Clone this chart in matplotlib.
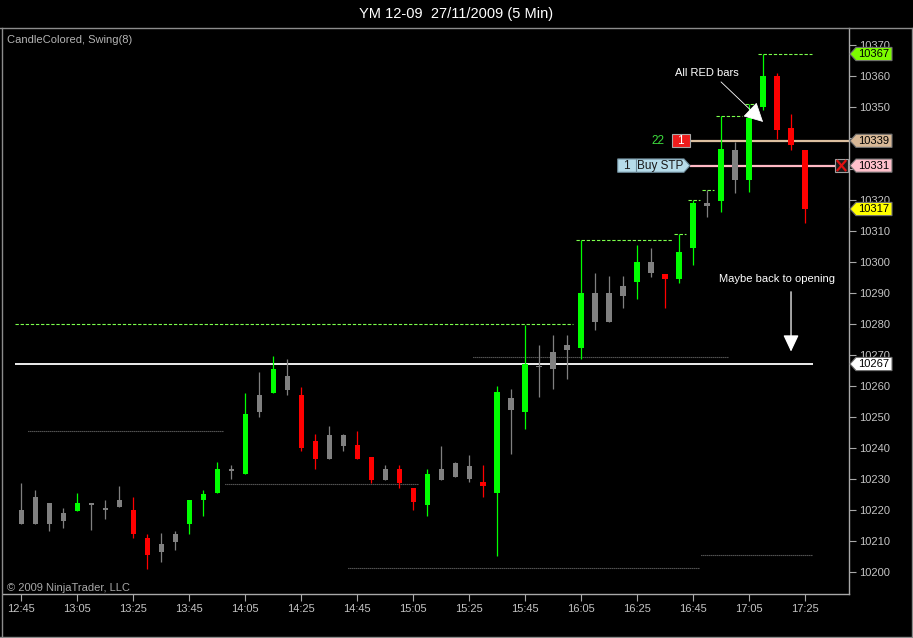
import numpy as np
import matplotlib
matplotlib.use("Agg")
import matplotlib.pyplot as plt
from matplotlib.patches import Polygon, Rectangle
from matplotlib.lines import Line2D
from matplotlib.transforms import blended_transform_factory

# 5 minute bars, YM 12-09, 27/11/2009 12:45 .. 17:25
opens = [10220, 10224, 10222, 10219, 10219.5, 10222, 10220.5, 10223, 10220, 10211,
         10209, 10212, 10215.5, 10223, 10225.5, 10233, 10231.5, 10257, 10257.5, 10263,
         10257, 10242, 10244, 10244, 10241, 10237, 10233, 10233, 10227, 10221.5,
         10233, 10235, 10234, 10229, 10225.5, 10256, 10251.5, 10266.5, 10271, 10273,
         10272, 10290, 10290, 10292, 10293.5, 10300, 10296, 10294.5, 10304.5, 10319,
         10319.5, 10336, 10326.5, 10350, 10360, 10343, 10336]
highs = [10228.5, 10226.5, 10222, 10220.5, 10225.5, 10222, 10223, 10227.5, 10224, 10212,
         10212.5, 10213, 10223, 10226.5, 10235.5, 10234.5, 10257.5, 10264.5, 10269.5, 10268.5,
         10259.5, 10244.5, 10247, 10244.5, 10245.5, 10237, 10234.5, 10234.5, 10227, 10233,
         10240.5, 10235.5, 10237.5, 10234.5, 10260, 10259, 10279.5, 10273, 10276.5, 10276.5,
         10307, 10296.5, 10295.5, 10295.5, 10305.5, 10304.5, 10296, 10309, 10320, 10323,
         10347, 10338.5, 10351, 10367, 10361, 10347.5, 10336]
lows = [10215.5, 10215.5, 10213, 10214, 10219.5, 10213.5, 10217, 10221, 10211, 10201,
        10203, 10207, 10212, 10218, 10225.5, 10230, 10231.5, 10250, 10257.5, 10257,
        10239, 10233, 10236.5, 10239, 10236.5, 10228.5, 10229.5, 10227, 10220, 10218,
        10229.5, 10230.5, 10229, 10224, 10205, 10238, 10246, 10256.5, 10259, 10262,
        10268.5, 10278, 10280.5, 10285, 10288, 10295, 10285, 10293, 10299, 10314.5,
        10316, 10322, 10322.5, 10349, 10339.5, 10336, 10312.5]
closes = [10215.5, 10215.5, 10215.5, 10216.5, 10222, 10221.5, 10220, 10221, 10212, 10205.5,
          10206.5, 10209.5, 10223, 10225, 10233, 10232.5, 10251, 10251.5, 10265.5, 10258.5,
          10240, 10236.5, 10236.5, 10240.5, 10236.5, 10229.5, 10229.5, 10228.5, 10222.5, 10231.5,
          10229.5, 10230.5, 10230, 10227.5, 10258, 10252, 10267, 10266, 10265.5, 10271.5,
          10290, 10280.5, 10280.5, 10289, 10300, 10296.5, 10294.5, 10303, 10319, 10318,
          10336.5, 10326.5, 10346.5, 10360, 10342.5, 10337.5, 10317]
# CandleColored states: u = green, d = red, n = grey
bar_states = list("nnnnunnndd" "nnuuununun" "ddnnddnddu"
                  "nnndununnn" "unnnunduun" "unuuddd")

time_labels = ["12:45", "13:05", "13:25", "13:45", "14:05", "14:25", "14:45", "15:05",
               "15:25", "15:45", "16:05", "16:25", "16:45", "17:05", "17:25"]

# Swing(8) levels: (first bar, last bar, price)
swing_highs = [(-0.45, 39.4, 10280), (39.6, 46.5, 10307), (46.6, 47.5, 10309),
               (47.6, 48.5, 10320), (48.6, 49.5, 10323), (49.6, 51.5, 10347),
               (51.7, 52.45, 10351), (52.6, 56.5, 10367)]
swing_lows = [(0.5, 14.4, 10245.5), (14.55, 28.4, 10228.3), (32.3, 50.45, 10269.4),
              (23.3, 48.5, 10201.1), (48.55, 56.5, 10205.4)]

open_price = 10267
stop_price = 10339
entry_price = 10331
stop_qty = 22

W, H = 913, 638
BG = "black"
GREY_TXT = "#c4c4c4"
FRAME = "#8c8c8c"

plt.rcParams["font.family"] = ["Liberation Sans", "DejaVu Sans"]

fig = plt.figure(figsize=(W / 100, H / 100), dpi=100, facecolor=BG)
# plot area: x from 3 to 849 px, y from 28 to 594 px
ax = fig.add_axes([3 / W, 1 - 594 / H, 846 / W, 566 / H], facecolor=BG)

# pixel scale of the original: bar i at 21.3 + 14 i, 10360 at y=75.7, 3.1 px per point
x0, dx = 21.3, 14.0
ax.set_xlim((3 - x0) / dx, (849 - x0) / dx)
ax.set_ylim(10360 - (594 - 75.7) / 3.1, 10360 + (75.7 - 28) / 3.1)

colors = {"u": "#00ff00", "d": "#ff0000", "n": "#808080"}
idx = np.arange(len(opens))
o = np.array(opens)
c = np.array(closes)
bot = np.minimum(o, c)
hgt = np.maximum(np.abs(c - o), 0.45)
cols = [colors[s] for s in bar_states]

ax.vlines(idx, lows, highs, colors=cols, lw=0.9, zorder=3)
ax.bar(idx, hgt, bottom=bot, width=0.4, color=cols, lw=0, zorder=4)

# swing lines
for a, b, p in swing_highs:
    ax.hlines(p, a, b, colors="#7cff4c", lw=0.8, linestyles=(0, (3, 1.6)), zorder=2)
for a, b, p in swing_lows:
    ax.hlines(p, a, b, colors="#a0a0a0", lw=0.8, linestyles=(0, (0.7, 1.1)), zorder=2)

# opening level
ax.hlines(open_price, -0.45, 56.53, colors="white", lw=1.3, zorder=2)

# order lines
xr = ax.get_xlim()[1]
ax.hlines(stop_price, 47.76, xr, colors="#dcbf9f", lw=1.6, zorder=2)
ax.hlines(entry_price, 47.76, 58.12, colors="#ffb8c4", lw=1.6, zorder=2)

# stop marker
ax.text(45.45, stop_price, str(stop_qty), color="#3ddc3d", fontsize=8.5,
        ha="center", va="center", zorder=6)
ax.add_patch(Rectangle((46.46, stop_price - 2.15), 1.3, 4.3, facecolor="#ee1c1c",
                       edgecolor="#a8a8a8", lw=0.8, zorder=5))
ax.text(47.11, stop_price, "1", color="white", fontsize=8.5, ha="center",
        va="center", zorder=6)

# buy stop marker
bh = 2.15
ax.add_patch(Polygon([(42.6, entry_price - bh), (47.33, entry_price - bh),
                      (47.76, entry_price), (47.33, entry_price + bh),
                      (42.6, entry_price + bh)], closed=True,
                     facecolor="#b6dcea", edgecolor="#6d8a99", lw=0.8, zorder=5))
ax.vlines(43.9, entry_price - bh, entry_price + bh, colors="#6d8a99", lw=0.8, zorder=6)
ax.text(43.24, entry_price, "1", color="#1a1a1a", fontsize=8.5, ha="center",
        va="center", zorder=6)
ax.text(45.6, entry_price, "Buy STP", color="#1a1a1a", fontsize=8.5, ha="center",
        va="center", zorder=6)

# close order box
ax.add_patch(Rectangle((58.12, entry_price - 2.1), 0.93, 4.2, facecolor="#1c1c1c",
                       edgecolor="#a0a0a0", lw=0.8, zorder=5))
ax.plot([58.3, 58.87], [entry_price - 1.5, entry_price + 1.5], color="#e01010", lw=1.6, zorder=6)
ax.plot([58.3, 58.87], [entry_price + 1.5, entry_price - 1.5], color="#e01010", lw=1.6, zorder=6)

# annotations
ax.text(49.0, 10360.8, "All RED bars", color="white", fontsize=8, ha="center",
        va="center", zorder=6)
ax.annotate("", xy=(52.98, 10345.1), xytext=(49.98, 10358),
            arrowprops=dict(arrowstyle="-|>,head_length=0.8,head_width=0.42",
                            mutation_scale=15, color="white", lw=0.6,
                            shrinkA=0, shrinkB=0), zorder=6)
ax.text(53.96, 10294.3, "Maybe back to opening", color="white", fontsize=8,
        ha="center", va="center", zorder=6)
ax.annotate("", xy=(54.98, 10271), xytext=(54.98, 10290.3),
            arrowprops=dict(arrowstyle="-|>,head_length=0.85,head_width=0.4",
                            mutation_scale=12, color="white", lw=0.9,
                            shrinkA=0, shrinkB=0), zorder=6)

# price markers on the axis
tr = blended_transform_factory(ax.transAxes, ax.transData)


def fx(px):
    return (px - 3) / 846


markers = [(max(highs), "#7cfc00"), (stop_price, "#d8b896"), (entry_price, "#ffc0cb"),
           (closes[-1], "#ffff00"), (open_price, "white")]
for p, fc in markers:
    h = 6.6 / 3.1
    ax.add_patch(Polygon([(fx(850), p), (fx(856), p + h), (fx(892), p + h),
                          (fx(892), p - h), (fx(856), p - h)], closed=True,
                         transform=tr, clip_on=False, facecolor=fc,
                         edgecolor="#707070", lw=0.8, zorder=10))
    ax.text(fx(874), p, f"{p:.0f}", transform=tr, color="black", fontsize=8,
            ha="center", va="center", clip_on=False, zorder=11)

# axes styling
yticks = np.arange(10200, 10371, 10)
ax.set_xticks(np.arange(0, len(opens), 4))
ax.set_xticklabels(time_labels)
ax.set_yticks(yticks)
# the 10340 / 10330 labels sit under the order markers
ax.set_yticklabels(["" if t in (10330, 10340) else str(t) for t in yticks])
ax.yaxis.tick_right()
ax.tick_params(axis="both", colors="#a8a8a8", labelcolor=GREY_TXT, labelsize=8,
               length=5, width=0.8, direction="out", pad=2)
for s in ["top", "left"]:
    ax.spines[s].set_visible(False)
for s in ["bottom", "right"]:
    ax.spines[s].set_color("#a8a8a8")
    ax.spines[s].set_linewidth(1)

# window frame and header
for xs, ys in [([0, 1], [1 - 27.5 / H] * 2), ([1.5 / W] * 2, [0, 1 - 27.5 / H]),
               ([911.5 / W] * 2, [0, 1 - 27.5 / H]), ([0, 1], [1.5 / H] * 2)]:
    fig.add_artist(Line2D(xs, ys, color=FRAME, lw=1, transform=fig.transFigure))

fig.text(0.5, 1 - 14 / H, "YM 12-09  27/11/2009 (5 Min)", color="white",
         fontsize=10.5, ha="center", va="center")
fig.text(7 / W, 1 - 40 / H, "CandleColored, Swing(8)", color="#b4b4b4",
         fontsize=8, ha="left", va="center")
fig.text(7 / W, 1 - 588 / H, "\u00a9 2009 NinjaTrader, LLC", color="#a8a8a8",
         fontsize=8, ha="left", va="center")

fig.savefig("out.png", dpi=100, facecolor=BG)
